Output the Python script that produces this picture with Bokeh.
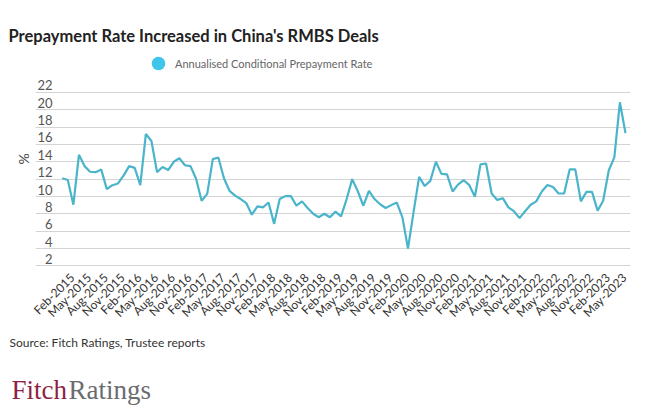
from bokeh.plotting import figure
from bokeh.layouts import column
from bokeh.models import (ColumnDataSource, FixedTicker, LinearAxis, Range1d, Label,
                          Legend, LegendItem)
from bokeh.embed import file_html
from bokeh.resources import INLINE
import math

# Annualised Conditional Prepayment Rate (%), monthly from Feb-2015
cpr = [12.1, 11.9, 9.05, 14.8, 13.5, 12.85, 12.8, 13.1, 10.84, 11.3,
       11.5, 12.4, 13.5, 13.3, 11.3, 17.2, 16.4, 12.8, 13.4, 13.05,
       14.0, 14.4, 13.6, 13.5, 12.05, 9.5, 10.3, 14.3, 14.5, 12.1,
       10.65, 10.1, 9.7, 9.24, 7.9, 8.86, 8.74, 9.3, 6.84, 9.7,
       10.04, 10.04, 8.93, 9.43, 8.67, 8.0, 7.6, 8.0, 7.6, 8.25,
       7.7, 9.7, 12.0, 10.6, 8.93, 10.65, 9.7, 9.1, 8.67, 9.0,
       9.3, 7.6, 4.0, 8.2, 12.25, 11.2, 11.8, 14.0, 12.6, 12.55,
       10.57, 11.4, 11.87, 11.3, 9.96, 13.7, 13.8, 10.34, 9.6, 9.8,
       8.74, 8.3, 7.5, 8.3, 9.05, 9.43, 10.57, 11.33, 11.1, 10.34,
       10.34, 13.12, 13.12, 9.43, 10.53, 10.53, 8.36, 9.5, 13.0, 14.5,
       20.86, 17.3]
month_idx = list(range(len(cpr)))

xtick_labels = ["Feb-2015", "May-2015", "Aug-2015", "Nov-2015",
                "Feb-2016", "May-2016", "Aug-2016", "Nov-2016",
                "Feb-2017", "May-2017", "Aug-2017", "Nov-2017",
                "Feb-2018", "May-2018", "Aug-2018", "Nov-2018",
                "Feb-2019", "May-2019", "Aug-2019", "Nov-2019",
                "Feb-2020", "May-2020", "Aug-2020", "Nov-2020",
                "Feb-2021", "May-2021", "Aug-2021", "Nov-2021",
                "Feb-2022", "May-2022", "Aug-2022", "Nov-2022",
                "Feb-2023", "May-2023"]
xtick_pos = [3 * i for i in range(len(xtick_labels))]
yticks = [2, 4, 6, 8, 10, 12, 14, 16, 18, 20, 22]

FONT = "Lato"
LINE_COLOR = "#4ab5ca"
DOT_COLOR = "#3ec5ea"

src = ColumnDataSource(data=dict(x=month_idx, y=cpr))

X0, X1 = -4.79, 101.9
Y0, Y1 = 1.806, 26.834
p = figure(width=646, height=328, output_backend="svg", toolbar_location=None,
           x_range=Range1d(X0, X1), y_range=Range1d(Y0, Y1),
           min_border_left=35, min_border_right=16, min_border_top=50,
           min_border_bottom=59, outline_line_color=None, frame_align=False)
p.background_fill_color = "white"
p.border_fill_color = "white"

# title
p.title.text = "Prepayment Rate Increased in China's RMBS Deals"
p.title.text_font = FONT
p.title.text_font_style = "bold"
p.title.text_font_size = "16.5px"
p.title.text_color = "#222222"
p.title.align = "left"
p.title.offset = -27
p.title.standoff = 9

# grid
p.xgrid.visible = False
p.ygrid.ticker = FixedTicker(ticks=yticks)
p.ygrid.grid_line_color = "#d4d4d4"
p.ygrid.grid_line_width = 1

# primary axes hidden; labels drawn by offset axes (labels sit above gridlines,
# rotated month labels end just right of their month)
p.yaxis.visible = False
p.xaxis.visible = False
p.extra_y_ranges = {"lab": Range1d(Y0 - 0.8, Y1 - 0.8)}
p.extra_x_ranges = {"lab": Range1d(X0 - 1.8, X1 - 1.8)}

yax = LinearAxis(y_range_name="lab", ticker=FixedTicker(ticks=yticks),
                 axis_line_color=None, major_tick_line_color=None,
                 minor_tick_line_color=None, major_tick_out=0, major_tick_in=0,
                 major_label_standoff=-17,
                 major_label_text_font=FONT, major_label_text_font_size="13px",
                 major_label_text_color="#555555",
                 axis_label="%", axis_label_text_font=FONT,
                 axis_label_text_font_style="normal",
                 axis_label_text_font_size="14px",
                 axis_label_text_color="#444444", axis_label_standoff=2)
p.add_layout(yax, "left")

xax = LinearAxis(x_range_name="lab", ticker=FixedTicker(ticks=xtick_pos),
                 major_label_overrides={pos: lab for pos, lab in zip(xtick_pos, xtick_labels)},
                 major_label_orientation=math.pi / 4,
                 axis_line_color=None, major_tick_line_color=None,
                 minor_tick_line_color=None, major_tick_out=0, major_tick_in=0,
                 major_label_standoff=8,
                 major_label_text_font=FONT, major_label_text_font_size="12px",
                 major_label_text_color="#333333")
p.add_layout(xax, "below")

# series
p.line(x="x", y="y", source=src, line_color=LINE_COLOR, line_width=2.2)

# legend marker proxy: zero-size points on the same data (only the legend circle shows)
dot = p.scatter(x="x", y="y", source=src, size=0, fill_color=DOT_COLOR, line_color=None)
legend = Legend(items=[LegendItem(label="Annualised Conditional Prepayment Rate",
                                  renderers=[dot], index=0)],
                location=(106, 187), glyph_width=34, glyph_height=34,
                label_standoff=-3, padding=0, margin=0, spacing=0,
                border_line_color=None, background_fill_alpha=0,
                label_text_font=FONT, label_text_font_size="11px",
                label_text_color="#666666")
p.add_layout(legend)

# footer: source note and logo
f = figure(frame_width=632, frame_height=85, output_backend="svg",
           toolbar_location=None, title=None,
           x_range=Range1d(0, 632), y_range=Range1d(0, 85),
           x_axis_location=None, y_axis_location=None,
           min_border_left=8, min_border_right=6, min_border_top=0,
           min_border_bottom=0, outline_line_color=None, frame_align=False)
f.xgrid.visible = False
f.ygrid.visible = False
f.background_fill_color = "white"
f.border_fill_color = "white"

f.add_layout(Label(x=1, y=71, x_units="screen", y_units="screen",
                   text="Source: Fitch Ratings, Trustee reports",
                   text_font=FONT, text_font_size="12px", text_color="#333333",
                   text_baseline="alphabetic"))
f.add_layout(Label(x=3, y=24, x_units="screen", y_units="screen",
                   text="Fitch", text_font="Liberation Serif", text_font_size="27px",
                   text_color="#8e1f45", text_baseline="alphabetic"))
f.add_layout(Label(x=60, y=24, x_units="screen", y_units="screen",
                   text="Ratings", text_font="Liberation Serif", text_font_size="27px",
                   text_color="#6b6c70", text_baseline="alphabetic"))

layout = column(p, f, spacing=0)
open("out.html", "w").write(file_html(layout, INLINE))
